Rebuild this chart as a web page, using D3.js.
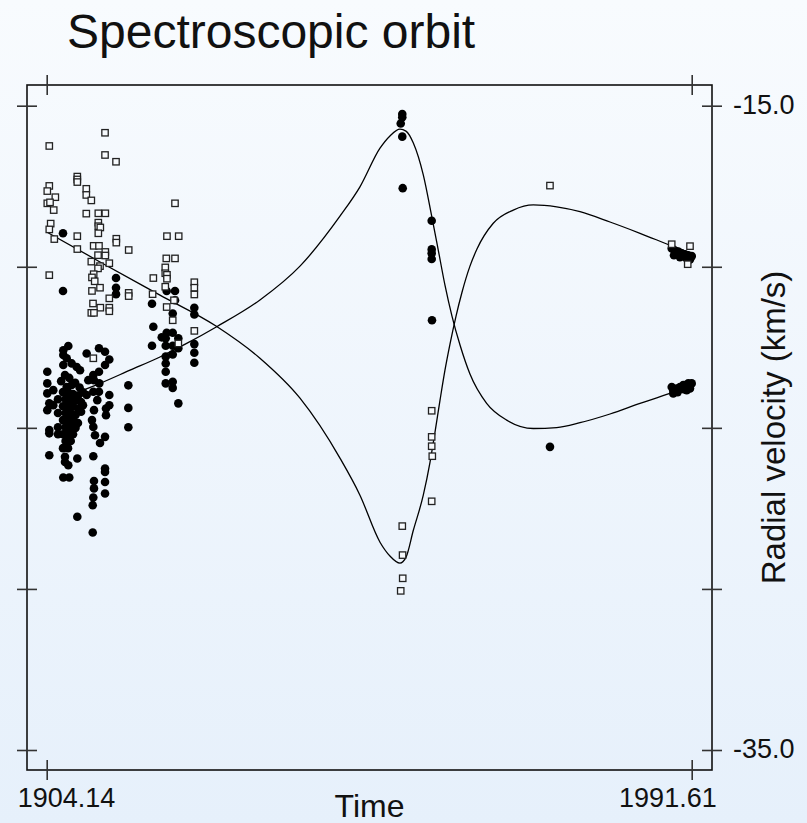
<!DOCTYPE html>
<html>
<head>
<meta charset="utf-8">
<script src="https://cdn.jsdelivr.net/npm/d3@7"></script>
<style>
  html, body { margin: 0; padding: 0; background: #eef5fc; }
  svg { display: block; }
  text { font-family: "Liberation Sans", Arial, Helvetica, sans-serif; fill: #111; }
</style>
</head>
<body>
<svg id="chart" width="807" height="823"></svg>
<script>
// ---- data -----------------------------------------------------------
const chartTitle = "Spectroscopic orbit";
const xTitle = "Time";
const yTitle = "Radial velocity (km/s)";

const timeTicks = [1904.14, 1991.61];          // labelled epochs
const velocityTicks = [-15, -20, -25, -30, -35];
const velocityLabelled = [-15, -35];

// primary component measurements [year, km/s]
const primaryObs = [
  [1906.35,-18.96],[1906.35,-20.75],[1913.54,-20.35],[1913.54,-20.65],[1913.54,-20.85],
  [1920.41,-20.75],[1921.54,-20.75],[1921.54,-21.04],[1918.42,-21.15],[1921.23,-21.45],
  [1924.16,-21.27],[1924.16,-21.48],[1918.60,-21.86],[1920.41,-22.05],[1921.23,-22.05],
  [1919.74,-22.19],[1920.28,-22.22],[1921.99,-22.22],[1918.42,-22.45],[1920.28,-22.45],
  [1921.23,-22.45],[1921.99,-22.53],[1924.16,-22.40],[1924.16,-22.67],[1924.16,-22.98],
  [1921.23,-22.72],[1920.28,-22.79],[1920.28,-23.00],[1920.28,-23.26],[1920.28,-23.62],
  [1921.23,-23.57],[1921.23,-23.76],[1921.99,-24.24],
  [1915.21,-23.68],[1915.21,-24.38],[1915.21,-24.98],
  [1904.22,-23.26],[1904.22,-23.62],[1904.22,-23.93],[1904.49,-24.24],[1904.22,-24.45],
  [1904.49,-25.07],[1904.49,-25.17],[1904.49,-25.85],[1905.03,-23.83],[1905.03,-24.30],
  [1906.39,-22.59],[1907.07,-22.46],[1906.39,-22.74],[1906.85,-22.84],[1906.39,-23.05],
  [1907.53,-23.00],[1908.21,-23.11],[1908.66,-23.21],[1906.62,-23.36],[1906.85,-23.73],
  [1907.53,-23.67],[1906.62,-25.90],[1906.62,-26.06],[1907.07,-26.16],[1906.39,-26.54],
  [1907.20,-26.54],[1908.29,-25.95],[1908.29,-27.76],
  [1909.56,-22.69],[1911.23,-22.53],[1912.05,-22.64],[1912.63,-22.88],[1912.05,-23.05],
  [1911.23,-23.26],[1910.46,-23.36],[1909.78,-23.52],[1910.55,-23.52],[1911.27,-23.62],
  [1909.56,-23.98],[1910.46,-23.88],[1911.23,-23.88],[1912.63,-23.98],[1911.00,-24.14],
  [1912.63,-24.30],[1912.18,-24.40],[1910.55,-24.45],[1912.18,-24.61],[1910.28,-24.76],
  [1910.46,-24.97],[1910.69,-25.23],[1912.05,-25.28],[1911.37,-25.47],[1910.46,-25.88],
  [1912.05,-26.26],[1912.05,-26.37],[1910.55,-26.65],[1912.05,-26.68],[1910.55,-26.88],
  [1912.05,-27.04],[1910.46,-27.16],[1910.38,-27.40],[1910.38,-28.25],
  [1905.67,-24.11],[1905.67,-24.54],[1905.67,-24.98],[1905.67,-25.20],
  [1906.35,-23.89],[1906.35,-24.33],[1906.35,-24.76],[1906.35,-25.20],[1906.35,-25.63],
  [1906.70,-24.11],[1906.70,-24.54],[1906.70,-24.98],[1906.70,-25.41],
  [1907.03,-23.89],[1907.03,-24.33],[1907.03,-24.76],[1907.03,-25.20],[1907.03,-25.63],
  [1907.40,-24.11],[1907.40,-24.54],[1907.40,-24.98],[1907.40,-25.41],
  [1907.71,-23.95],[1907.71,-24.33],[1907.71,-24.76],[1907.71,-25.20],
  [1908.05,-24.15],[1908.05,-24.60],[1908.05,-25.00],
  [1908.38,-24.00],[1908.38,-24.40],[1908.38,-24.85],
  [1908.80,-24.20],[1908.80,-24.50],[1909.06,-23.90],[1909.06,-24.30],
  [1907.20,-23.45],[1908.00,-23.60],[1908.60,-23.75],[1906.10,-23.55],
  [1952.36,-15.26],[1952.36,-15.36],[1952.15,-15.55],[1952.36,-15.96],[1952.42,-17.56],
  [1956.35,-18.57],[1956.35,-19.46],[1956.35,-19.58],[1956.35,-19.76],[1956.39,-21.66],
  [1972.39,-25.59],
  [1988.90,-19.43],[1989.35,-19.50],[1989.79,-19.53],[1990.25,-19.58],[1990.70,-19.61],
  [1991.15,-19.64],[1991.61,-19.67],[1991.38,-19.77],[1990.93,-19.74],[1989.21,-19.64],
  [1990.02,-19.70],
  [1989.11,-23.83],[1989.57,-23.78],[1990.02,-23.73],[1990.47,-23.67],[1991.15,-23.62],
  [1991.61,-23.62],[1991.38,-23.78],[1990.93,-23.83],[1989.11,-23.93],[1988.90,-23.73],
  [1989.70,-23.89],[1990.52,-23.80]
];

// secondary component measurements [year, km/s]
const secondaryObs = [
  [1912.05,-15.84],[1904.49,-16.25],[1912.05,-16.53],[1913.54,-16.74],
  [1908.29,-17.20],[1908.29,-17.29],[1908.29,-17.37],[1904.49,-17.49],[1904.22,-17.65],
  [1909.51,-17.58],[1909.51,-17.77],[1905.31,-17.84],[1910.19,-17.94],[1904.22,-18.03],
  [1904.59,-18.00],[1921.54,-18.03],[1905.09,-18.24],[1909.51,-18.35],[1911.14,-18.34],
  [1912.09,-18.34],[1904.68,-18.66],[1904.49,-18.84],[1911.14,-18.63],[1911.14,-18.74],
  [1911.41,-18.78],[1911.14,-18.96],[1905.17,-19.14],[1908.29,-19.05],[1913.58,-19.13],
  [1913.58,-19.25],[1920.45,-19.05],[1922.04,-19.05],[1910.51,-19.35],[1911.23,-19.35],
  [1908.29,-19.45],[1915.26,-19.48],[1912.09,-19.54],[1912.09,-19.65],[1911.10,-19.64],
  [1910.19,-19.84],[1912.63,-19.89],[1911.37,-19.98],[1911.10,-20.05],[1920.36,-19.74],
  [1921.54,-19.74],[1920.22,-20.02],[1920.22,-20.20],[1920.45,-20.25],[1920.45,-20.37],
  [1904.49,-20.26],[1910.51,-20.23],[1910.28,-20.33],[1910.65,-20.45],[1918.60,-20.35],
  [1911.37,-20.65],[1910.28,-20.75],[1920.22,-20.62],[1924.16,-20.48],[1924.16,-20.65],
  [1924.16,-20.86],[1915.26,-20.81],[1915.26,-20.91],[1918.50,-20.85],[1912.63,-20.98],
  [1921.40,-21.04],[1910.42,-21.14],[1920.41,-21.25],[1911.41,-21.27],[1912.63,-21.27],
  [1912.63,-21.38],[1910.19,-21.43],[1910.55,-21.43],[1921.23,-21.66],[1924.16,-21.99],
  [1910.46,-22.84],[1921.99,-22.38],
  [1972.39,-17.48],
  [1956.35,-24.47],[1956.35,-25.28],[1956.35,-25.57],[1956.43,-25.88],[1956.35,-27.28],
  [1952.36,-28.05],[1952.40,-28.95],[1952.42,-29.67],[1952.15,-30.06],
  [1988.90,-19.30],[1991.38,-19.36],[1991.07,-19.92]
];

// fitted orbit, primary [year, km/s]
const primaryOrbit = [
  [1904.14,-24.26],[1911.37,-23.62],[1915.44,-23.21],[1919.50,-22.80],[1923.12,-22.38],
  [1927.19,-21.86],[1933.06,-21.03],[1938.49,-19.98],[1943.91,-18.43],[1946.62,-17.52],
  [1949.34,-16.32],[1950.69,-15.94],[1952.05,-15.73],[1952.86,-15.79],[1953.86,-16.16],
  [1955.21,-17.15],[1956.35,-18.43],[1957.24,-19.48],[1958.15,-20.57],[1959.10,-21.53],
  [1960.19,-22.43],[1961.54,-23.33],[1963.80,-24.24],[1966.52,-24.76],[1970.13,-25.02],
  [1973.30,-24.99],[1976.46,-24.84],[1980.53,-24.57],[1984.60,-24.24],[1988.67,-23.93],
  [1991.61,-23.70]
];

// fitted orbit, secondary [year, km/s]
const secondaryOrbit = [
  [1904.14,-18.92],[1911.37,-19.85],[1919.50,-20.88],[1927.10,-21.84],[1933.06,-22.84],
  [1938.49,-24.08],[1943.91,-25.94],[1946.62,-27.09],[1949.34,-28.55],[1950.69,-28.98],
  [1952.05,-29.20],[1952.86,-29.02],[1953.86,-28.18],[1955.21,-27.09],[1956.12,-26.07],
  [1956.80,-25.13],[1957.48,-24.14],[1958.15,-23.21],[1958.83,-22.40],[1959.65,-21.53],
  [1960.46,-20.79],[1961.54,-19.98],[1962.49,-19.45],[1964.70,-18.65],[1967.41,-18.24],
  [1970.13,-18.08],[1973.30,-18.14],[1976.46,-18.29],[1980.53,-18.61],[1984.60,-18.96],
  [1988.67,-19.33],[1991.61,-19.59]
];

// ---- layout ---------------------------------------------------------
const svg = d3.select("#chart");
const W = 807, H = 823;

const x = d3.scaleLinear().domain([1904.14, 1991.61]).range([46.7, 691.7]);
const y = d3.scaleLinear().domain([-15, -35]).range([105.7, 750]);
const box = { left: 27, right: 712, top: 85, bottom: 770 };

// soft blue background
const defs = svg.append("defs");
const grad = defs.append("linearGradient").attr("id", "bg")
  .attr("x1", 0).attr("y1", 0).attr("x2", 0).attr("y2", 1);
grad.append("stop").attr("offset", "0%").attr("stop-color", "#f8fbfe");
grad.append("stop").attr("offset", "100%").attr("stop-color", "#e6f0fb");
svg.append("rect").attr("width", W).attr("height", H).attr("fill", "url(#bg)");

// title
svg.append("text").attr("x", 67).attr("y", 48)
  .style("font-size", "48px").text(chartTitle);

// plot frame
svg.append("rect")
  .attr("x", box.left).attr("y", box.top)
  .attr("width", box.right - box.left).attr("height", box.bottom - box.top)
  .attr("fill", "none").attr("stroke", "#111").attr("stroke-width", 1.6);

// tick marks straddling the frame
function crossTicks(g) {
  g.select(".domain").remove();
  g.selectAll(".tick text").remove();
  g.selectAll(".tick line").attr("stroke", "#333").attr("stroke-width", 1.6);
}
svg.append("g").attr("transform", `translate(0,${box.bottom})`)
  .call(d3.axisBottom(x).tickValues(timeTicks).tickSize(10))
  .call(crossTicks)
  .selectAll(".tick line").attr("y1", -10).attr("y2", 10);
svg.append("g").attr("transform", `translate(0,${box.top})`)
  .call(d3.axisTop(x).tickValues(timeTicks).tickSize(10))
  .call(crossTicks)
  .selectAll(".tick line").attr("y1", -10).attr("y2", 10);
svg.append("g").attr("transform", `translate(${box.left},0)`)
  .call(d3.axisLeft(y).tickValues(velocityTicks).tickSize(10))
  .call(crossTicks)
  .selectAll(".tick line").attr("x1", -10).attr("x2", 10);
svg.append("g").attr("transform", `translate(${box.right},0)`)
  .call(d3.axisRight(y).tickValues(velocityTicks).tickSize(10))
  .call(crossTicks)
  .selectAll(".tick line").attr("x1", -10).attr("x2", 10);

// tick labels (plain hyphen for the minus sign)
svg.selectAll("text.ylab").data(velocityLabelled).join("text")
  .attr("class", "ylab")
  .attr("x", box.right + 21).attr("y", d => y(d) + 8)
  .style("font-size", "27px").text(d => d.toFixed(1));
svg.selectAll("text.xlab").data(timeTicks).join("text")
  .attr("class", "xlab")
  .attr("x", (d, i) => i === 0 ? x(d) - 29 : x(d) + 25)
  .attr("y", box.bottom + 37)
  .attr("text-anchor", (d, i) => i === 0 ? "start" : "end")
  .style("font-size", "27px").text(d => d.toFixed(2));

// axis titles
svg.append("text").attr("x", (box.left + box.right) / 2).attr("y", 817)
  .attr("text-anchor", "middle").style("font-size", "32px").text(xTitle);
svg.append("text")
  .attr("transform", `translate(785,${(box.top + box.bottom) / 2}) rotate(-90)`)
  .attr("text-anchor", "middle").style("font-size", "33px").text(yTitle);

// orbit curves
const line = d3.line().x(d => x(d[0])).y(d => y(d[1])).curve(d3.curveMonotoneX);
svg.selectAll("path.orbit").data([primaryOrbit, secondaryOrbit]).join("path")
  .attr("class", "orbit").attr("d", line)
  .attr("fill", "none").attr("stroke", "#000").attr("stroke-width", 1.3);

// measurements
svg.append("g").selectAll("circle").data(primaryObs).join("circle")
  .attr("cx", d => x(d[0])).attr("cy", d => y(d[1])).attr("r", 4.3)
  .attr("fill", "#000");
const sq = 6.4;
svg.append("g").selectAll("rect").data(secondaryObs).join("rect")
  .attr("x", d => x(d[0]) - sq / 2).attr("y", d => y(d[1]) - sq / 2)
  .attr("width", sq).attr("height", sq)
  .attr("fill", "#f7fafd").attr("stroke", "#222").attr("stroke-width", 1.3);
</script>
</body>
</html>
